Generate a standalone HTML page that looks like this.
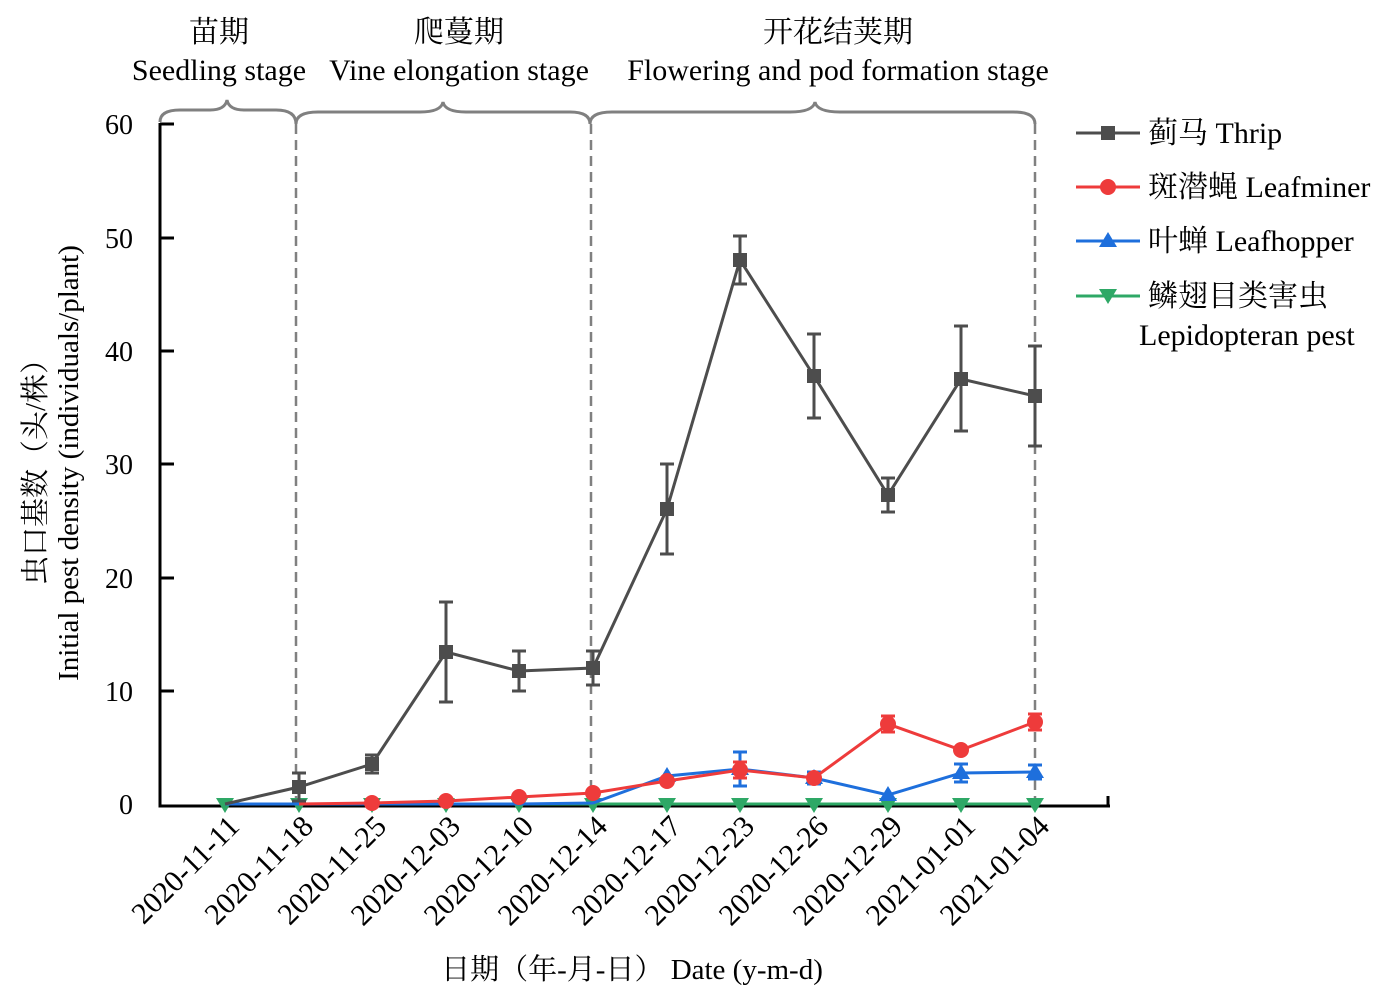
<!DOCTYPE html>
<html><head><meta charset="utf-8"><style>body{margin:0;background:#fff}svg{display:block}</style></head><body>
<svg width="1399" height="1004" viewBox="0 0 1399 1004" font-family="'Liberation Serif','Noto Serif CJK SC',serif">
<g fill="none" stroke="#808080" stroke-width="3">
<path d="M160,122 Q160,110 180,110 L210,110 Q225,110 227,100 Q229,110 244,110 L276,110 Q296,110 296,124"/>
<path d="M296,124 Q296,112 318,112 L420,112 Q441,112 443,102 Q445,112 466,112 L570,112 Q590,112 590,124"/>
<path d="M590,124 Q590,112 612,112 L790,112 Q813,112 815,102 Q817,112 840,112 L1013,112 Q1035,112 1035,124"/>
</g>
<g stroke="#808080" stroke-width="2.5" stroke-dasharray="10,6">
<line x1="296" y1="124" x2="296" y2="804"/><line x1="591" y1="124" x2="591" y2="804"/><line x1="1035" y1="124" x2="1035" y2="804"/>
</g>
<g stroke="#000" stroke-width="3" fill="none">
<path d="M160,123 V806 H1110"/>
<path d="M160,124h14M160,238h14M160,351h14M160,464h14M160,578h14M160,691h14"/>
<path d="M225,798v12M299,798v12M372,798v12M446,798v12M519,798v12M593,798v12M667,798v12M740,798v12M814,798v12M888,798v12M961,798v12M1035,798v12M1108,796v10"/>
</g>
<g font-size="28" text-anchor="end">
<text x="133" y="134">60</text><text x="133" y="248">50</text><text x="133" y="361">40</text><text x="133" y="474">30</text><text x="133" y="588">20</text><text x="133" y="701">10</text><text x="133" y="814">0</text>
</g>
<g font-size="30" text-anchor="end">
<text transform="translate(241,828) rotate(-45)">2020-11-11</text>
<text transform="translate(315,828) rotate(-45)">2020-11-18</text>
<text transform="translate(388,828) rotate(-45)">2020-11-25</text>
<text transform="translate(462,828) rotate(-45)">2020-12-03</text>
<text transform="translate(535,828) rotate(-45)">2020-12-10</text>
<text transform="translate(609,828) rotate(-45)">2020-12-14</text>
<text transform="translate(683,828) rotate(-45)">2020-12-17</text>
<text transform="translate(756,828) rotate(-45)">2020-12-23</text>
<text transform="translate(830,828) rotate(-45)">2020-12-26</text>
<text transform="translate(904,828) rotate(-45)">2020-12-29</text>
<text transform="translate(977,828) rotate(-45)">2021-01-01</text>
<text transform="translate(1051,828) rotate(-45)">2021-01-04</text>
</g>
<text x="632" y="979" font-size="29" text-anchor="middle">日期（年-月-日） Date (y-m-d)</text>
<text transform="translate(45,465) rotate(-90)" font-size="29" text-anchor="middle">虫口基数（头/株）</text>
<text transform="translate(78,463) rotate(-90)" font-size="29" text-anchor="middle">Initial pest density (individuals/plant)</text>
<g font-size="30" text-anchor="middle">
<text x="219" y="42">苗期</text><text x="219" y="80">Seedling stage</text>
<text x="459" y="42">爬蔓期</text><text x="459" y="80">Vine elongation stage</text>
<text x="838" y="42">开花结荚期</text><text x="838" y="80">Flowering and pod formation stage</text>
</g>
<g stroke="#2ea866" stroke-width="3" fill="#2ea866">
<path d="M225,804H1035" fill="none"/>
<g stroke="none">
<path d="M216,798h18l-9,15z"/><path d="M290,798h18l-9,15z"/><path d="M363,798h18l-9,15z"/><path d="M437,798h18l-9,15z"/><path d="M510,798h18l-9,15z"/><path d="M584,798h18l-9,15z"/><path d="M658,798h18l-9,15z"/><path d="M731,798h18l-9,15z"/><path d="M805,798h18l-9,15z"/><path d="M879,798h18l-9,15z"/><path d="M952,798h18l-9,15z"/><path d="M1026,798h18l-9,15z"/>
</g></g>
<g stroke="#1e6fdc" stroke-width="3" fill="#1e6fdc">
<path d="M225,804L299,804L372,804L446,804L519,804L593,803L667,776L740,769L814,778L888,795L961,773L1035,772" fill="none"/>
<path d="M740,752v34M733,752h14M733,786h14M961,764v18M954,764h14M954,782h14M1035,765v14M1028,765h14M1028,779h14M814,772v12M807,772h14M807,784h14" fill="none"/>
<g stroke="none">
<path d="M667,767l9,15h-18z"/><path d="M740,760l9,15h-18z"/><path d="M814,769l9,15h-18z"/><path d="M888,786l9,15h-18z"/><path d="M961,764l9,15h-18z"/><path d="M1035,763l9,15h-18z"/>
</g></g>
<g stroke="#ee3b3b" stroke-width="3" fill="#ee3b3b">
<path d="M299,804L372,803L446,801L519,797L593,793L667,781L740,770L814,778L888,724L961,750L1035,722" fill="none"/>
<path d="M888,716v16M881,716h14M881,732h14M1035,714v16M1028,714h14M1028,730h14M740,762v16M733,762h14M733,778h14" fill="none"/>
<g stroke="none">
<circle cx="372" cy="803" r="8"/><circle cx="446" cy="801" r="8"/><circle cx="519" cy="797" r="8"/><circle cx="593" cy="793" r="8"/><circle cx="667" cy="781" r="8"/><circle cx="740" cy="770" r="8"/><circle cx="814" cy="778" r="8"/><circle cx="888" cy="724" r="8"/><circle cx="961" cy="750" r="8"/><circle cx="1035" cy="722" r="8"/>
</g></g>
<g stroke="#4d4d4d" stroke-width="3" fill="#4d4d4d">
<path d="M225,804L299,787L372,764L446,652L519,671L593,668L667,509L740,260L814,376L888,495L961,379L1035,396" fill="none"/>
<path d="M299,773v28M292,773h14M292,801h14M372,755v18M365,755h14M365,773h14M446,602v100M439,602h14M439,702h14M519,651v40M512,651h14M512,691h14M593,651v34M586,651h14M586,685h14M667,464v90M660,464h14M660,554h14M740,236v48M733,236h14M733,284h14M814,334v84M807,334h14M807,418h14M888,478v34M881,478h14M881,512h14M961,326v105M954,326h14M954,431h14M1035,346v100M1028,346h14M1028,446h14" fill="none"/>
<g stroke="none">
<rect x="292" y="780" width="14" height="14"/><rect x="365" y="757" width="14" height="14"/><rect x="439" y="645" width="14" height="14"/><rect x="512" y="664" width="14" height="14"/><rect x="586" y="661" width="14" height="14"/><rect x="660" y="502" width="14" height="14"/><rect x="733" y="253" width="14" height="14"/><rect x="807" y="369" width="14" height="14"/><rect x="881" y="488" width="14" height="14"/><rect x="954" y="372" width="14" height="14"/><rect x="1028" y="389" width="14" height="14"/>
</g></g>
<g stroke-width="3">
<line x1="1076" y1="133" x2="1140" y2="133" stroke="#4d4d4d"/><rect x="1101" y="126" width="14" height="14" fill="#4d4d4d"/>
<line x1="1076" y1="187" x2="1140" y2="187" stroke="#ee3b3b"/><circle cx="1108" cy="187" r="8" fill="#ee3b3b"/>
<line x1="1076" y1="241" x2="1140" y2="241" stroke="#1e6fdc"/><path d="M1108,232l9,15h-18z" fill="#1e6fdc"/>
<line x1="1076" y1="296" x2="1140" y2="296" stroke="#2ea866"/><path d="M1099,289h18l-9,15z" fill="#2ea866"/>
</g>
<g font-size="30">
<text x="1148" y="143">蓟马 Thrip</text>
<text x="1148" y="197">斑潜蝇 Leafminer</text>
<text x="1148" y="251">叶蝉 Leafhopper</text>
<text x="1148" y="306">鳞翅目类害虫</text>
<text x="1139" y="345">Lepidopteran pest</text>
</g>
</svg>
</body></html>
